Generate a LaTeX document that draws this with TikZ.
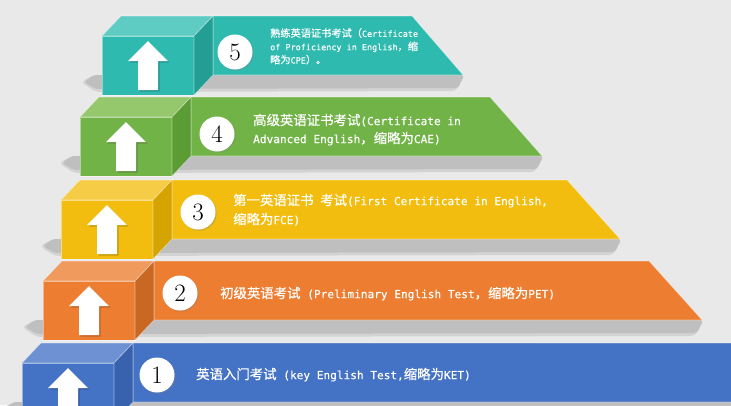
\documentclass[tikz,border=0pt]{standalone}
\usepackage{fontspec}
\usetikzlibrary{shadows}
\newfontfamily\cjk{Noto Sans CJK SC}[FakeBold=0.6]
\newfontfamily\mono{DejaVu Sans Mono}[Scale=0.83,FakeBold=0.4]
\newcommand\E[1]{{\mono #1}}
\definecolor{bg}{HTML}{E9E9E9}
\definecolor{shdA}{HTML}{D3D3D3}
\definecolor{shdB}{HTML}{BFBFBF}
\definecolor{tealF}{HTML}{2EBAAF}
\definecolor{tealT}{HTML}{5FCCC3}
\definecolor{tealS}{HTML}{229E95}
\definecolor{grnF}{HTML}{71B347}
\definecolor{grnT}{HTML}{95C86D}
\definecolor{grnS}{HTML}{5C9C35}
\definecolor{ylwF}{HTML}{F2BD0E}
\definecolor{ylwT}{HTML}{F6CB46}
\definecolor{ylwS}{HTML}{D6A400}
\definecolor{orgF}{HTML}{ED7D31}
\definecolor{orgT}{HTML}{F09A5E}
\definecolor{orgS}{HTML}{C96823}
\definecolor{bluF}{HTML}{4472C4}
\definecolor{bluT}{HTML}{6D91D3}
\definecolor{bluS}{HTML}{3862AE}
\tikzset{
  edge/.style={draw=white, draw opacity=0.45, line width=0.6pt},
  numc/.style={circle, fill=white, minimum size=35pt, inner sep=0pt,
    font=\fontsize{25}{25}\selectfont,
    drop shadow={shadow xshift=1.2pt, shadow yshift=-1.2pt, opacity=0.3}},
  bigtxt/.style={anchor=base west, inner sep=0pt, text=white, font=\cjk\fontsize{13.4}{13.4}\selectfont},
  smalltxt/.style={anchor=base west, inner sep=0pt, text=white, font=\cjk\fontsize{10.2}{10.2}\selectfont},
}
% #1 front-left x, #2 front-top y, #3 front, #4 top, #5 side, #6 banner right corner x, #7 banner tip x
\newcommand\stair[7]{%
  \fill[shdA, rounded corners=4pt]
    ({#1-21},{#2+46}) -- ({#1-8},{#2+39}) -- ({#7+2},{#2+39}) -- ({#7-7},{#2+55}) -- ({#1-6},{#2+56}) -- cycle;
  \fill[shdB, rounded corners=3pt]
    ({#1-18},{#2+46}) -- ({#1-8},{#2+39}) -- ({#7+1},{#2+39}) -- ({#7-5},{#2+52}) -- ({#1-6},{#2+53}) -- cycle;
  \filldraw[fill=#3, edge] ({#1+111},{#2-20}) -- (#6,{#2-20}) -- (#7,{#2+39}) -- ({#1+111},{#2+39}) -- cycle;
  \filldraw[fill=#3, edge] (#1,#2) rectangle ({#1+92},{#2+59});
  \filldraw[fill=#4, edge] (#1,#2) -- ({#1+92},#2) -- ({#1+111},{#2-20}) -- ({#1+19},{#2-20}) -- cycle;
  \filldraw[fill=#5, edge] ({#1+92},#2) -- ({#1+111},{#2-20}) -- ({#1+111},{#2+39}) -- ({#1+92},{#2+59}) -- cycle;
  \fill[black, opacity=0.18] ({#1+47.5},{#2+6.5}) -- ({#1+67.5},{#2+26.5}) -- ({#1+57.5},{#2+26.5}) -- ({#1+57.5},{#2+55.5})
    -- ({#1+37.5},{#2+55.5}) -- ({#1+37.5},{#2+26.5}) -- ({#1+27.5},{#2+26.5}) -- cycle;
  \fill[white] ({#1+46},{#2+5}) -- ({#1+66},{#2+25}) -- ({#1+56},{#2+25}) -- ({#1+56},{#2+54})
    -- ({#1+36},{#2+54}) -- ({#1+36},{#2+25}) -- ({#1+26},{#2+25}) -- cycle;
}
\begin{document}
\begin{tikzpicture}[x=1pt,y=-1pt]
\useasboundingbox (0,0) rectangle (731,405);
\fill[bg] (0,0) rectangle (731,405);

\stair{102}{36}{tealF}{tealT}{tealS}{412}{463}
\stair{80}{117}{grnF}{grnT}{grnS}{490}{542}
\stair{61}{200}{ylwF}{ylwT}{ylwS}{567}{620}
\stair{43}{281}{orgF}{orgT}{orgS}{649}{702}
\stair{22}{363}{bluF}{bluT}{bluS}{770}{790}

\node[numc] (c5) at (235,52) {5};
\node[numc] (c4) at (217,134) {4};
\node[numc] (c3) at (198,212) {3};
\node[numc] (c2) at (180,293) {2};
\node[numc] (c1) at (157,375) {1};

\node[smalltxt] (t5a) at (270,36.9) {熟练英语证书考试（\E{Certificate}};
\node[smalltxt] (t5b) at (270,50.2) {\E{of Proficiency in English}，缩};
\node[smalltxt] (t5c) at (270,63.5) {略为\E{CPE}）。};

\node[bigtxt] (t4a) at (253,125.1) {高级英语证书考试\E{(Certificate in}};
\node[bigtxt] (t4b) at (253,143.1) {\E{Advanced English}，缩略为\E{CAE)}};

\node[bigtxt] (t3a) at (233,205.1) {第一英语证书\E{~}考试\E{(First Certificate in English,}};
\node[bigtxt] (t3b) at (233,224.1) {缩略为\E{FCE)}};

\node[bigtxt] (t2) at (220,298.1) {初级英语考试\E{~(Preliminary English Test}，缩略为\E{PET)}};

\node[bigtxt] (t1) at (196,379.1) {英语入门考试\E{~(key English Test,}缩略为\E{KET)}};
\end{tikzpicture}
\end{document}
